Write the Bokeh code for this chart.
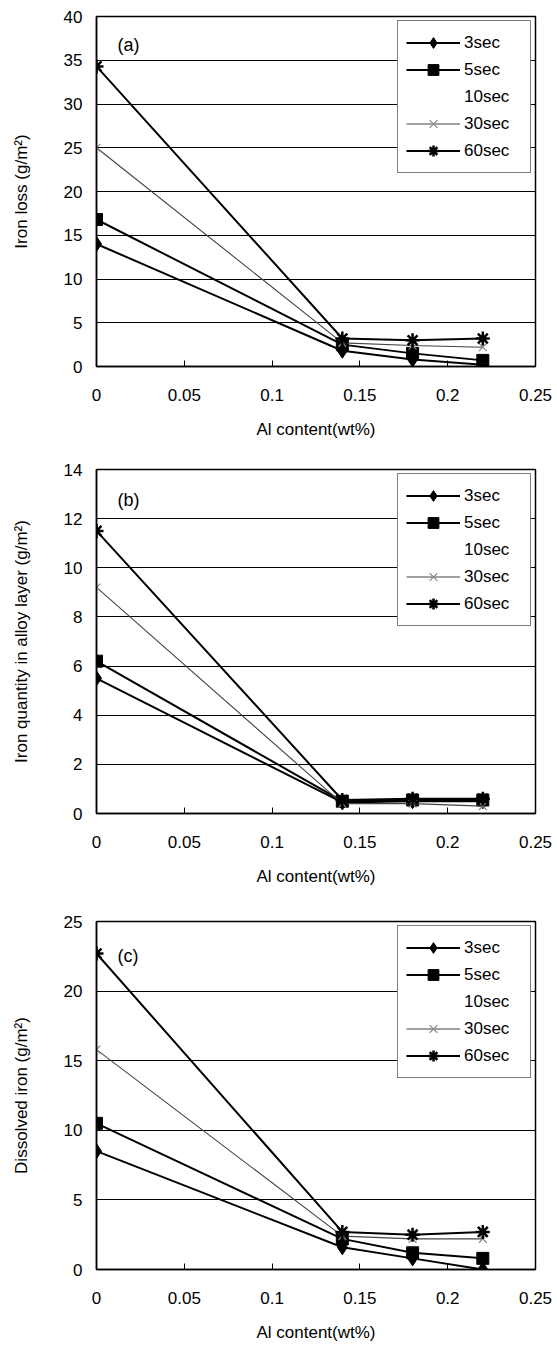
from bokeh.plotting import figure
from bokeh.layouts import column
from bokeh.models import (Range1d, FixedTicker, CustomJSTickFormatter, Legend, LegendItem,
                          Label)
from bokeh.embed import file_html
from bokeh.resources import INLINE

# ---- data ----
al_content = [0, 0.14, 0.18, 0.22]
series_labels = ["3sec", "5sec", "10sec", "30sec", "60sec"]

loss_3s = [14.0, 1.8, 0.8, 0.2]
loss_5s = [16.8, 2.5, 1.5, 0.7]
loss_30s = [25.0, 2.7, 2.4, 2.2]
loss_60s = [34.3, 3.2, 3.0, 3.2]

alloy_3s = [5.5, 0.45, 0.5, 0.5]
alloy_5s = [6.2, 0.5, 0.55, 0.55]
alloy_30s = [9.2, 0.4, 0.4, 0.3]
alloy_60s = [11.5, 0.55, 0.6, 0.6]

diss_3s = [8.5, 1.6, 0.8, 0.0]
diss_5s = [10.5, 2.2, 1.2, 0.8]
diss_30s = [15.8, 2.4, 2.2, 2.2]
diss_60s = [22.7, 2.7, 2.5, 2.7]

x_ticks = [0, 0.05, 0.1, 0.15, 0.2, 0.25]

FONT = "Liberation Sans"

fmt = CustomJSTickFormatter(code="""
var s = tick.toFixed(2);
s = s.replace(/0+$/, '').replace(/\\.$/, '');
return s;
""")


def make_panel(tag, ylabel, ymax, ystep, data, label_y, height, top, bottom):
    p = figure(width=557, height=height, output_backend="svg", toolbar_location=None,
               x_range=Range1d(0, 0.25), y_range=Range1d(0, ymax),
               min_border_left=96, min_border_right=22, min_border_top=top,
               min_border_bottom=bottom)
    p.xgrid.grid_line_color = None
    p.ygrid.grid_line_color = "black"
    p.ygrid.grid_line_width = 1
    p.ygrid.ticker = FixedTicker(ticks=list(range(0, ymax + 1, ystep)))
    p.outline_line_color = "black"
    p.outline_line_width = 1.5

    p.xaxis.ticker = FixedTicker(ticks=x_ticks)
    p.xaxis.formatter = fmt
    p.xaxis.axis_label = "Al content(wt%)"
    p.yaxis.ticker = FixedTicker(ticks=list(range(0, ymax + 1, ystep)))
    p.yaxis.axis_label = ylabel
    for ax in (p.xaxis[0], p.yaxis[0]):
        ax.axis_line_color = "black"
        ax.axis_line_width = 1.5
        ax.major_label_text_font = FONT
        ax.major_label_text_font_size = "17px"
        ax.major_label_text_color = "black"
        ax.axis_label_text_font = FONT
        ax.axis_label_text_font_size = "17px"
        ax.axis_label_text_font_style = "normal"
        ax.axis_label_text_color = "black"
        ax.minor_tick_line_color = None
    p.xaxis.major_tick_in = 6
    p.xaxis.major_tick_out = 0
    p.xaxis.major_tick_line_color = "black"
    p.xaxis.major_label_standoff = 22
    p.xaxis.axis_label_standoff = 16
    p.yaxis.major_tick_in = 0
    p.yaxis.major_tick_out = 0
    p.yaxis.major_label_standoff = 14
    p.yaxis.axis_label_standoff = 30

    y3, y5, y30, y60 = data
    items = []
    r1 = p.line(al_content, y3, line_color="black", line_width=2)
    m1 = p.scatter(al_content, y3, marker="diamond", size=15, fill_color="black", line_color="black")
    items.append(LegendItem(label=series_labels[0], renderers=[r1, m1]))
    r2 = p.line(al_content, y5, line_color="black", line_width=2)
    m2 = p.scatter(al_content, y5, marker="square", size=12, fill_color="black", line_color="black")
    items.append(LegendItem(label=series_labels[1], renderers=[r2, m2]))
    r3 = p.line(x=[], y=[], line_alpha=0)
    items.append(LegendItem(label=series_labels[2], renderers=[r3]))
    r4 = p.line(al_content, y30, line_color="#444444", line_width=1.1)
    m4 = p.scatter(al_content, y30, marker="x", size=11, line_color="#888888", line_width=1.2)
    items.append(LegendItem(label=series_labels[3], renderers=[r4, m4]))
    r5 = p.line(al_content, y60, line_color="black", line_width=2)
    m5 = p.scatter(al_content, y60, marker="asterisk", size=14, line_color="black", line_width=2.5)
    items.append(LegendItem(label=series_labels[4], renderers=[r5, m5]))

    leg = Legend(items=items, location="top_right", margin=4, padding=8, spacing=0,
                 glyph_width=54, glyph_height=27, label_height=27, label_width=58,
                 label_standoff=4,
                 label_text_font=FONT, label_text_font_size="17px",
                 label_text_color="black",
                 border_line_color="black", border_line_width=1.2,
                 background_fill_alpha=1)
    p.add_layout(leg)

    p.add_layout(Label(x=0.012, y=label_y, text=tag, text_font=FONT, text_font_size="18px",
                       text_color="black", text_baseline="middle"))
    return p


pa = make_panel("(a)", "Iron loss (g/m\u00b2)", 40, 5,
                (loss_3s, loss_5s, loss_30s, loss_60s), 36.7, 450, 16, 84)
pb = make_panel("(b)", "Iron quantity in alloy layer (g/m\u00b2)", 14, 2,
                (alloy_3s, alloy_5s, alloy_30s, alloy_60s), 12.75, 450, 19, 87)
pc = make_panel("(c)", "Dissolved iron (g/m\u00b2)", 25, 5,
                (diss_3s, diss_5s, diss_30s, diss_60s), 22.55, 451, 21, 82)

layout = column(pa, pb, pc, spacing=0)
open("out.html", "w").write(file_html(layout, INLINE))
